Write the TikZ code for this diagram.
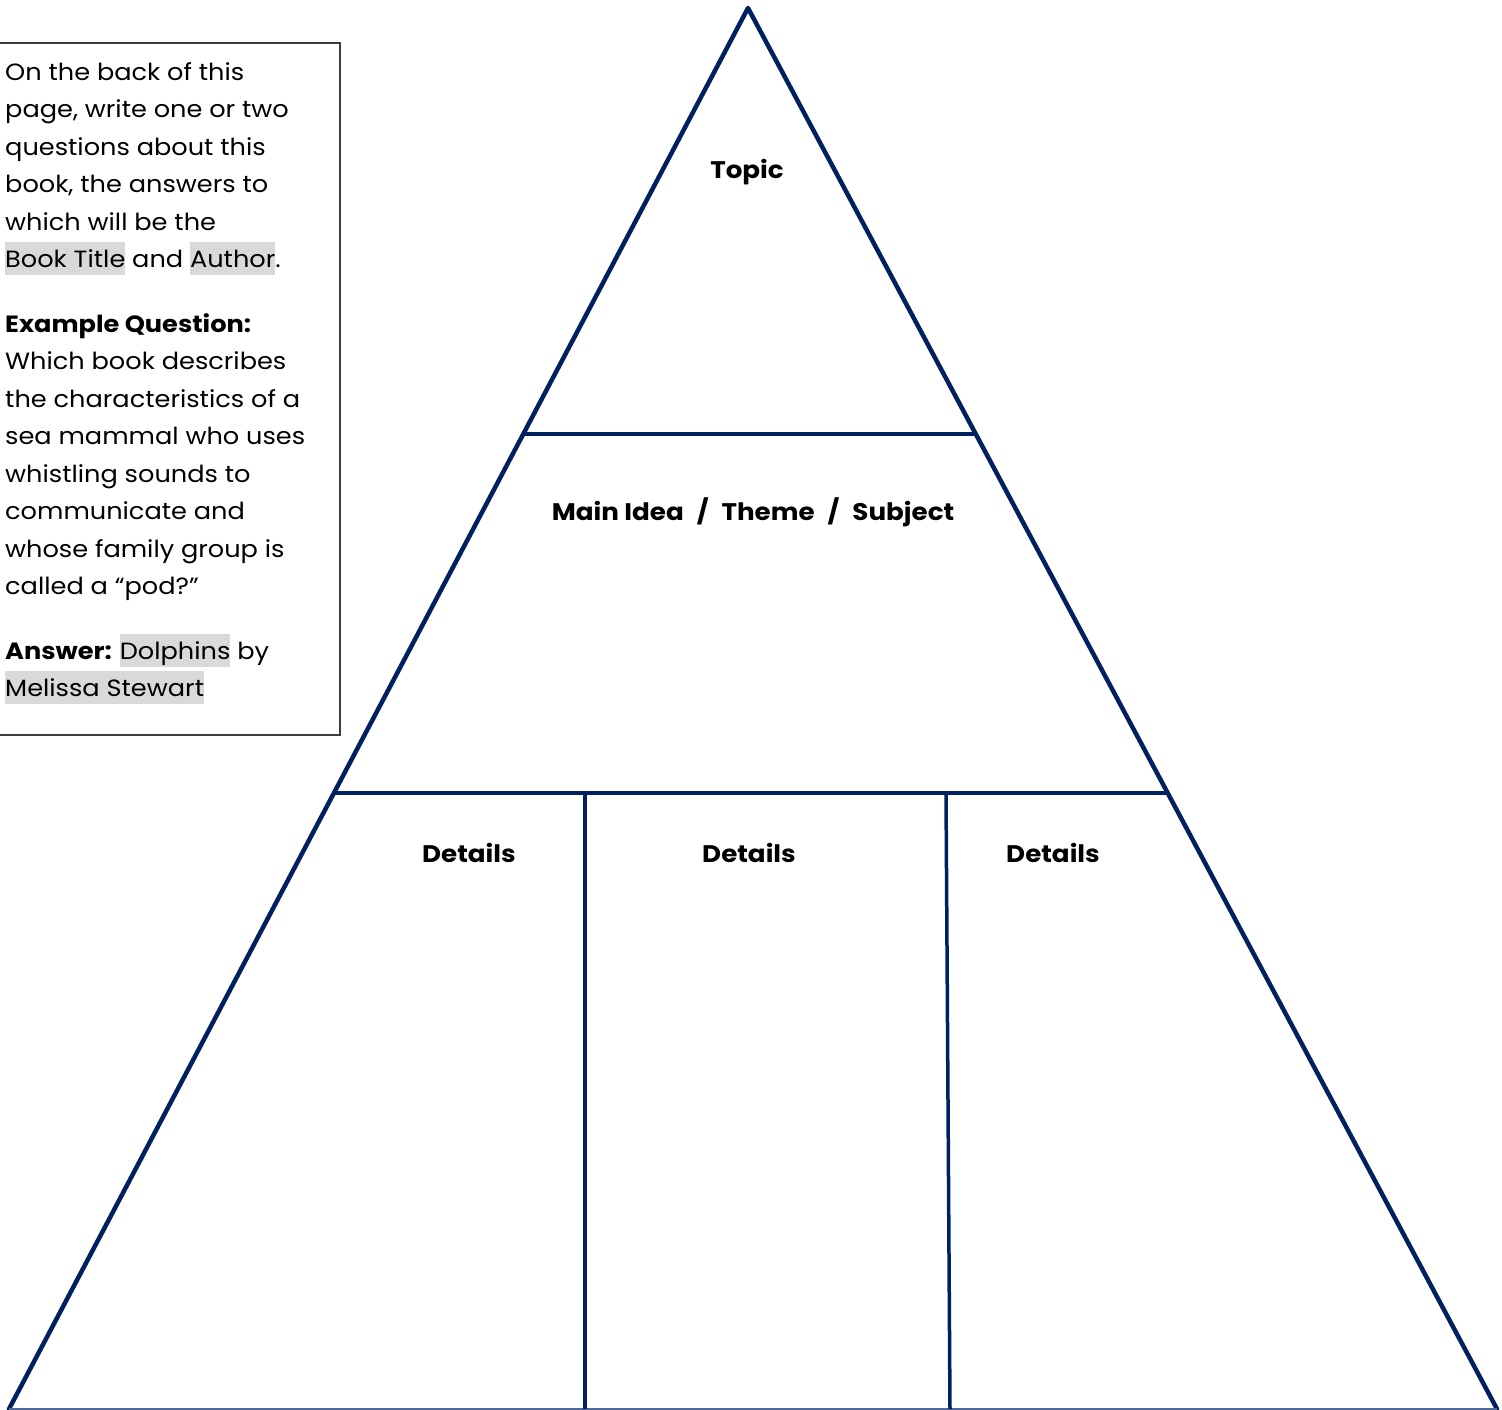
\documentclass[tikz,border=0pt]{standalone}
\usepackage{fontspec}
\setmainfont[FakeStretch=1.09]{Poppins}
\usetikzlibrary{calc}
\definecolor{navy}{RGB}{0,32,96}
\definecolor{baseblue}{RGB}{80,105,150}
\definecolor{hlgray}{RGB}{217,217,217}
\definecolor{boxgray}{RGB}{60,60,60}
\newcommand{\hlt}[1]{{\setlength{\fboxsep}{0pt}\colorbox{hlgray}{\rule[-7.5pt]{0pt}{33pt}#1}}}
\newcommand{\slsh}{\hspace{13pt}/\hspace{13pt}}
\tikzset{
  tri/.style={draw=navy, line width=4.5pt, line cap=round, line join=round},
  div/.style={draw=navy, line width=3.5pt},
  label/.style={font=\fontsize{24}{29}\selectfont\bfseries, inner sep=0pt},
  boxline/.style={anchor=base west, inner sep=0pt, font=\fontsize{23.5}{28}\selectfont},
}
\begin{document}
\begin{tikzpicture}[x=1pt,y=-1pt]
\useasboundingbox (0,0) rectangle (1502,1409);
% triangle
\coordinate (A) at (748,8);
\coordinate (BL) at (9,1409);
\coordinate (BR) at (1497,1409);
\coordinate (L1) at ($(A)!0.3041!(BL)$);
\coordinate (R1) at ($(A)!0.3041!(BR)$);
\coordinate (L2) at ($(A)!0.5603!(BL)$);
\coordinate (R2) at ($(A)!0.5603!(BR)$);
\coordinate (V1t) at (585,793);
\coordinate (V1b) at (585,1409);
\coordinate (V2t) at (946,793);
\coordinate (V2b) at (950,1409);
\draw[tri] (BL) -- (A) -- (BR);
\draw[draw=baseblue, line width=1.5pt] (BL) -- (BR);
\draw[div] (L1) -- (R1);
\draw[div] (L2) -- (R2);
\draw[div] (V1t) -- (V1b);
\draw[div] (V2t) -- (V2b);
% labels
\node[label] (topic) at (747,172) {Topic};
\node[label] (main) at (753,512) {Main Idea\slsh Theme\slsh Subject};
\node[label] (d1) at (469,853) {Details};
\node[label] (d2) at (749,853) {Details};
\node[label] (d3) at (1053,853) {Details};
% text box
\draw[draw=boxgray, line width=1.5pt] (-2,43) rectangle (340,735);
\node[boxline] (t1) at (5,80) {On the back of this};
\node[boxline] (t2) at (5,117.5) {page, write one or two};
\node[boxline] (t3) at (5,155) {questions about this};
\node[boxline] (t4) at (5,192.5) {book, the answers to};
\node[boxline] (t5) at (5,230) {which will be the};
\node[boxline] (t6) at (5,267.5) {\hlt{Book Title} and \hlt{Author}.};
\node[boxline] (t7) at (5,332) {\textbf{Example Question:}};
\node[boxline] (t8) at (5,369.5) {Which book describes};
\node[boxline] (t9) at (5,407) {the characteristics of a};
\node[boxline] (t10) at (5,444.5) {sea mammal who uses};
\node[boxline] (t11) at (5,482) {whistling sounds to};
\node[boxline] (t12) at (5,519.5) {communicate and};
\node[boxline] (t13) at (5,557) {whose family group is};
\node[boxline] (t14) at (5,594.5) {called a “pod?”};
\node[boxline] (t15) at (5,659) {\textbf{Answer:}\hspace{8pt}\hlt{Dolphins} by};
\node[boxline] (t16) at (5,696.5) {\hlt{Melissa Stewart}};
\end{tikzpicture}
\end{document}
